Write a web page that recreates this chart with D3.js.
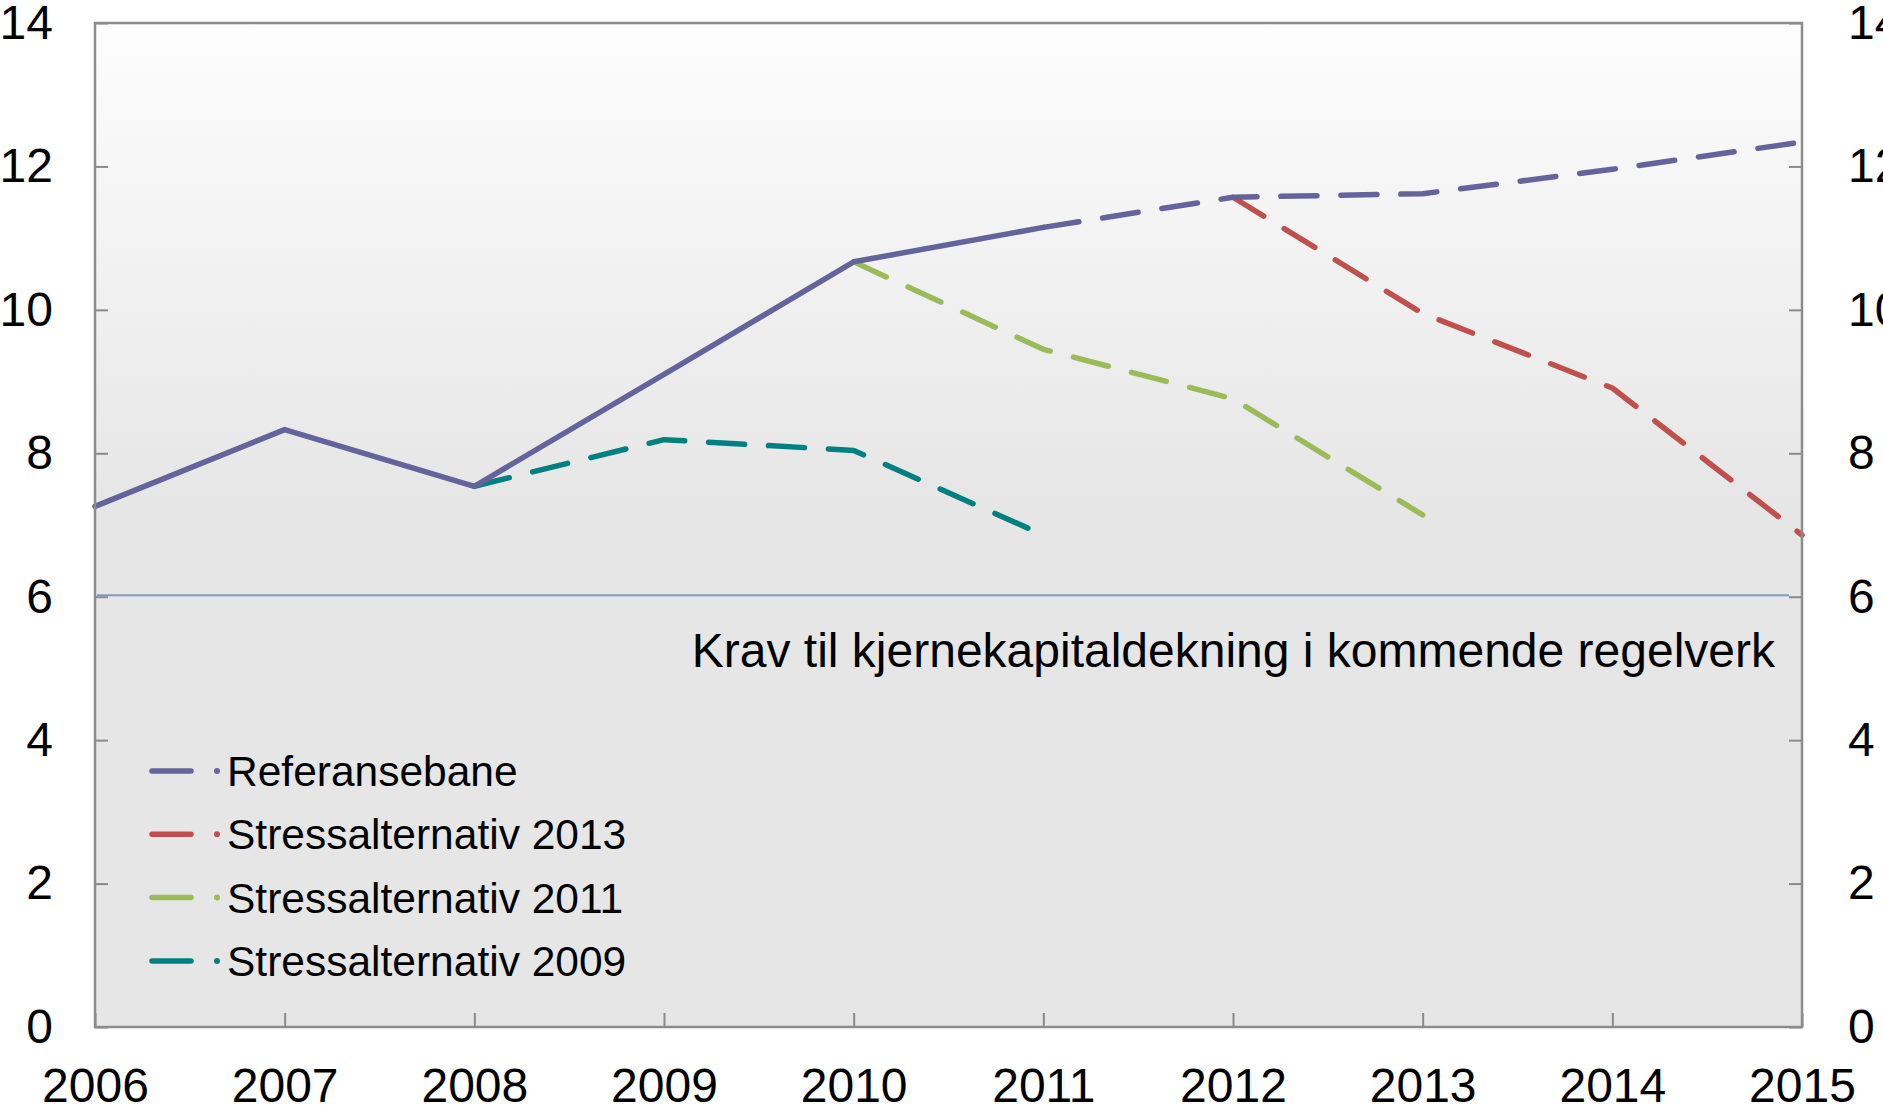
<!DOCTYPE html>
<html>
<head>
<meta charset="utf-8">
<script src="https://cdn.jsdelivr.net/npm/d3@7"></script>
<style>
  body { margin: 0; background: #fff; }
  svg text { font-family: "Liberation Sans", Arial, sans-serif; fill: #000; }
</style>
</head>
<body>
<script>
var width = 1883,
    height = 1110,
    margin = {top: 23, right: 81, bottom: 83, left: 95};

// data
var years = [2006, 2007, 2008, 2009, 2010, 2011, 2012, 2013, 2014, 2015];
var referansebane = [7.26, 8.33, 7.54, 9.1, 10.67, 11.15, 11.57, 11.62, 11.96, 12.34];
var stress2013Years = [2012, 2013, 2014, 2015];
var stress2013 = [11.57, 9.95, 8.91, 6.86];
var stress2011Years = [2010, 2011, 2012, 2013];
var stress2011 = [10.67, 9.45, 8.76, 7.14];
var stress2009Years = [2008, 2009, 2010, 2011];
var stress2009 = [7.54, 8.19, 8.04, 6.86];
var yTicks = [0, 2, 4, 6, 8, 10, 12, 14];
var kravNivaa = 6;
var kravTekst = 'Krav til kjernekapitaldekning i kommende regelverk';
var legendNames = ['Referansebane', 'Stressalternativ 2013', 'Stressalternativ 2011', 'Stressalternativ 2009'];

var colors = {
  ref: '#64639c',
  s2013: '#c0504d',
  s2011: '#9bbb59',
  s2009: '#008080'
};
var legendColors = [colors.ref, colors.s2013, colors.s2011, colors.s2009];

var svg = d3.select('body').append('svg')
    .attr('width', width)
    .attr('height', height);

var x = d3.scaleLinear().domain([2006, 2015]).range([margin.left, width - margin.right]);
var y = d3.scaleLinear().domain([0, 14]).range([height - margin.bottom, margin.top]);

var defs = svg.append('defs');
var grad = defs.append('linearGradient').attr('id', 'bg')
    .attr('x1', 0).attr('y1', 0).attr('x2', 0).attr('y2', 1);
grad.append('stop').attr('offset', '0%').attr('stop-color', '#fdfdfd');
grad.append('stop').attr('offset', '48%').attr('stop-color', '#e6e6e6');
grad.append('stop').attr('offset', '100%').attr('stop-color', '#e6e6e6');

// plot background
svg.append('rect')
    .attr('x', x(2006)).attr('y', y(14))
    .attr('width', x(2015) - x(2006)).attr('height', y(0) - y(14))
    .attr('fill', 'url(#bg)');

// axes
function styleAxis(g) {
  g.select('.domain').remove();
  g.selectAll('.tick line').attr('stroke', '#8a8a8a').attr('stroke-width', 2);
  g.selectAll('.tick text').style('font-size', '48px').attr('fill', '#000');
}

svg.append('g')
    .attr('transform', 'translate(' + x(2006) + ',0)')
    .call(d3.axisLeft(y).tickValues(yTicks).tickSize(-13).tickPadding(42).tickFormat(d3.format('d')))
    .call(styleAxis);

svg.append('g')
    .attr('transform', 'translate(' + x(2015) + ',0)')
    .call(d3.axisRight(y).tickValues(yTicks).tickSize(-13).tickPadding(46).tickFormat(d3.format('d')))
    .call(styleAxis);

svg.append('g')
    .attr('transform', 'translate(0,' + y(0) + ')')
    .call(d3.axisBottom(x).tickValues(years).tickSize(-14).tickPadding(41).tickFormat(d3.format('d')))
    .call(styleAxis);

// requirement line
svg.append('line')
    .attr('x1', x(2006) + 2).attr('x2', x(2015) - 13)
    .attr('y1', y(kravNivaa) - 1.5).attr('y2', y(kravNivaa) - 1.5)
    .attr('stroke', '#7f9cc2').attr('stroke-width', 2);

svg.append('text')
    .attr('x', x(2015) - 27)
    .attr('y', y(kravNivaa) + 70)
    .attr('text-anchor', 'end')
    .style('font-size', '48px')
    .text(kravTekst);

// lines
var line = d3.line()
    .x(function(d) { return x(d[0]); })
    .y(function(d) { return y(d[1]); });

function drawLine(xs, vals, color, dashed) {
  svg.append('path')
      .datum(d3.zip(xs, vals))
      .attr('d', line)
      .attr('fill', 'none')
      .attr('stroke', color)
      .attr('stroke-width', 5.5)
      .attr('stroke-linecap', 'round')
      .attr('stroke-linejoin', 'round')
      .attr('stroke-dasharray', dashed ? '36,24' : null);
}

drawLine(stress2009Years, stress2009, colors.s2009, true);
drawLine(stress2011Years, stress2011, colors.s2011, true);
drawLine(stress2013Years, stress2013, colors.s2013, true);
drawLine(years.slice(0, 6), referansebane.slice(0, 6), colors.ref, false);
drawLine(years.slice(5), referansebane.slice(5), colors.ref, true);

// frame
svg.append('rect')
    .attr('x', x(2006)).attr('y', y(14))
    .attr('width', x(2015) - x(2006)).attr('height', y(0) - y(14))
    .attr('fill', 'none')
    .attr('stroke', '#8c8c8c')
    .attr('stroke-width', 2.5);

// legend
var legend = svg.append('g').selectAll('g')
    .data(legendNames)
    .enter().append('g')
    .attr('transform', function(d, i) { return 'translate(0,' + (771 + i * 63.3) + ')'; });

legend.append('line')
    .attr('x1', 152).attr('x2', 191)
    .attr('y1', 0).attr('y2', 0)
    .attr('stroke', function(d, i) { return legendColors[i]; })
    .attr('stroke-width', 5.5)
    .attr('stroke-linecap', 'round');

legend.append('circle')
    .attr('cx', 217).attr('cy', 0).attr('r', 3)
    .attr('fill', function(d, i) { return legendColors[i]; });

legend.append('text')
    .attr('x', 227)
    .attr('y', 15)
    .style('font-size', '42.5px')
    .text(function(d) { return d; });
</script>
</body>
</html>
